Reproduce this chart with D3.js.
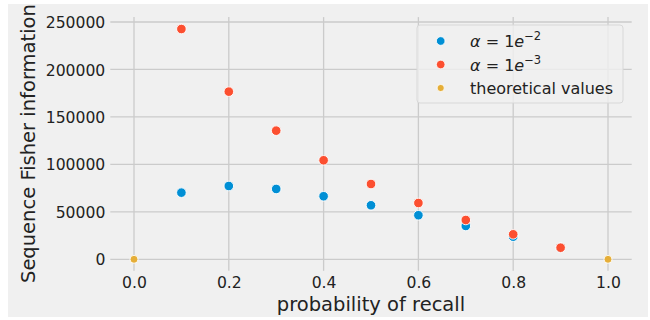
<!DOCTYPE html>
<html><head><meta charset="utf-8">
<script src="https://cdn.jsdelivr.net/npm/d3@7"></script>
<style>body{margin:0;background:#fff}svg{display:block}text{font-family:"DejaVu Sans",sans-serif;fill:#222}</style>
</head><body>
<script>
const recallA = [0.1,0.2,0.3,0.4,0.5,0.6,0.7,0.8,0.9];
const fisherA2 = [70200,77200,74100,66400,56900,46400,35100,23800,12000]; // alpha = 1e-2
const fisherA3 = [242600,176600,135500,104300,79300,59300,41400,26300,12200]; // alpha = 1e-3
const recallTheory = [0.0,1.0];
const fisherTheory = [0,0];
const xTicks = [0.0,0.2,0.4,0.6,0.8,1.0];
const yTicks = [0,50000,100000,150000,200000,250000];
const colors = ["#008fd5","#fc4f30","#e5ae38"];

const W=650,H=320;
const svg=d3.select("body").append("svg").attr("width",W).attr("height",H);
svg.append("rect").attr("x",8).attr("y",4).attr("width",640).attr("height",313).attr("fill","#f0f0f0");

const x=d3.scaleLinear().domain([-0.05,1.05]).range([110.3,631.7]);
const y=d3.scaleLinear().domain([-12130,255150]).range([270.8,17.1]);

const g=svg.append("g");
// grid
g.selectAll(".gx").data(xTicks).join("line").attr("x1",d=>x(d)).attr("x2",d=>x(d))
 .attr("y1",y.range()[1]).attr("y2",y.range()[0]).attr("stroke","#cbcbcb").attr("stroke-width",1.3);
g.selectAll(".gy").data(yTicks).join("line").attr("y1",d=>y(d)).attr("y2",d=>y(d))
 .attr("x1",x.range()[0]).attr("x2",x.range()[1]).attr("stroke","#cbcbcb").attr("stroke-width",1.3);

// axes via d3
const xa=svg.append("g").attr("transform",`translate(0,${y.range()[0]})`)
 .call(d3.axisBottom(x).tickValues(xTicks).tickFormat(d3.format(".1f")).tickSize(0).tickPadding(0));
const ya=svg.append("g").attr("transform",`translate(${x.range()[0]},0)`)
 .call(d3.axisLeft(y).tickValues(yTicks).tickFormat(d=>String(d)).tickSize(0).tickPadding(5));
[xa,ya].forEach(a=>{a.select(".domain").remove();a.selectAll("text").style("font-size","15.6px").attr("fill","#222").style("font-family","DejaVu Sans");});
ya.selectAll("text").attr("dy","0.36em");
xa.selectAll("text").attr("y",17.5).attr("dy",0);

// points
function pts(xs,ys,c,r){
  svg.append("g").selectAll("circle").data(xs.map((v,i)=>[v,ys[i]])).join("circle")
   .attr("cx",d=>x(d[0])).attr("cy",d=>y(d[1])).attr("r",r).attr("fill",c).attr("stroke","#fff").attr("stroke-width",0.9);
}
pts(recallA,fisherA2,colors[0],4.8);
pts(recallA,fisherA3,colors[1],4.8);
pts(recallTheory,fisherTheory,colors[2],4.0);

// axis labels
svg.append("text").attr("x",371).attr("y",311).attr("text-anchor","middle").style("font-size","19.5px").text("probability of recall");
svg.append("text").attr("transform","translate(34.5,283) rotate(-90)").attr("text-anchor","start").style("font-size","19.5px").text("Sequence Fisher information");

// legend
const lg=svg.append("g");
lg.append("rect").attr("x",417).attr("y",25).attr("width",206).attr("height",78).attr("rx",3)
 .attr("fill","#f0f0f0").attr("fill-opacity",0.8).attr("stroke","#d8d8d8").attr("stroke-width",1);
const legItems=[{c:colors[0],e:"−2"},{c:colors[1],e:"−3"},{c:colors[2],t:"theoretical values"}];
const ly=[41,64.5,88];
legItems.forEach((it,i)=>{
  lg.append("circle").attr("cx",440.7).attr("cy",ly[i]).attr("r",it.t?3.6:4.3).attr("fill",it.c).attr("stroke","#fff").attr("stroke-width",0.8);
  const t=lg.append("text").attr("x",470).attr("y",ly[i]+6).style("font-size","16px");
  if(it.t){t.text(it.t);}
  else{
    t.append("tspan").style("font-style","italic").text("α");
    t.append("tspan").text(" = 1");
    t.append("tspan").style("font-style","italic").text("e");
    t.append("tspan").attr("dy",-7).style("font-size","11.5px").text(it.e);
  }
});
</script>
</body></html>
